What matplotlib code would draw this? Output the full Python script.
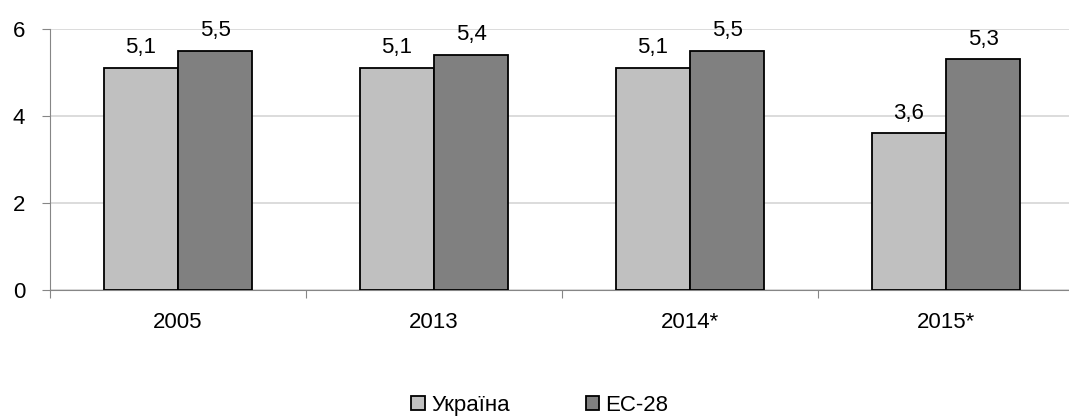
import matplotlib.pyplot as plt
import numpy as np

plt.rcParams['font.family'] = ['Liberation Sans', 'DejaVu Sans']

years = ['2005', '2013', '2014*', '2015*']
ukraine = [5.1, 5.1, 5.1, 3.6]
eu28 = [5.5, 5.4, 5.5, 5.3]

FS = 16


def draw_bars():
    fig = plt.figure(figsize=(10.69, 4.19), dpi=100)
    ax = fig.add_axes([50 / 1069, 1 - 290 / 419, 1024 / 1069, 261 / 419])

    x = np.arange(len(years))
    w = 0.29
    b1 = ax.bar(x - w / 2, ukraine, w, color='#c0c0c0', edgecolor='black', linewidth=1.3,
                label='Україна', zorder=3)
    b2 = ax.bar(x + w / 2, eu28, w, color='#808080', edgecolor='black', linewidth=1.3,
                label='ЕС-28', zorder=3)

    for bars, vals in ((b1, ukraine), (b2, eu28)):
        for r, v in zip(bars, vals):
            ax.annotate(str(v).replace('.', ','), (r.get_x() + r.get_width() / 2, v),
                        xytext=(0, 7), textcoords='offset points',
                        ha='center', va='bottom', fontsize=FS)

    ax.set_xlim(-0.5, 3.5)
    ax.set_ylim(0, 6)
    ax.set_yticks([0, 2, 4, 6])
    ax.tick_params(axis='y', labelsize=FS, length=6, color='#868686', pad=12)
    ax.set_xticks(np.arange(len(years) + 1) - 0.5, minor=False)
    ax.set_xticklabels([])
    ax.set_xticks(x, minor=True)
    ax.set_xticklabels(years, minor=True)
    ax.tick_params(axis='x', which='major', length=6, color='#868686')
    ax.tick_params(axis='x', which='minor', length=0, labelsize=FS, pad=16)

    ax.grid(axis='y', color='#d9d9d9', linewidth=1.3, zorder=0)
    for s in ('top', 'right'):
        ax.spines[s].set_visible(False)
    ax.spines['left'].set_color('#868686')
    ax.spines['bottom'].set_color('#868686')

    fig.legend(loc='center', bbox_to_anchor=(540 / 1069, 1 - 405 / 419), ncol=2,
               frameon=False, fontsize=FS, handlelength=0.6, handleheight=0.6,
               handletextpad=0.3, columnspacing=3.4)

    fig.savefig('out.png', dpi=100)


if __name__ == "__main__":
    draw_bars()
